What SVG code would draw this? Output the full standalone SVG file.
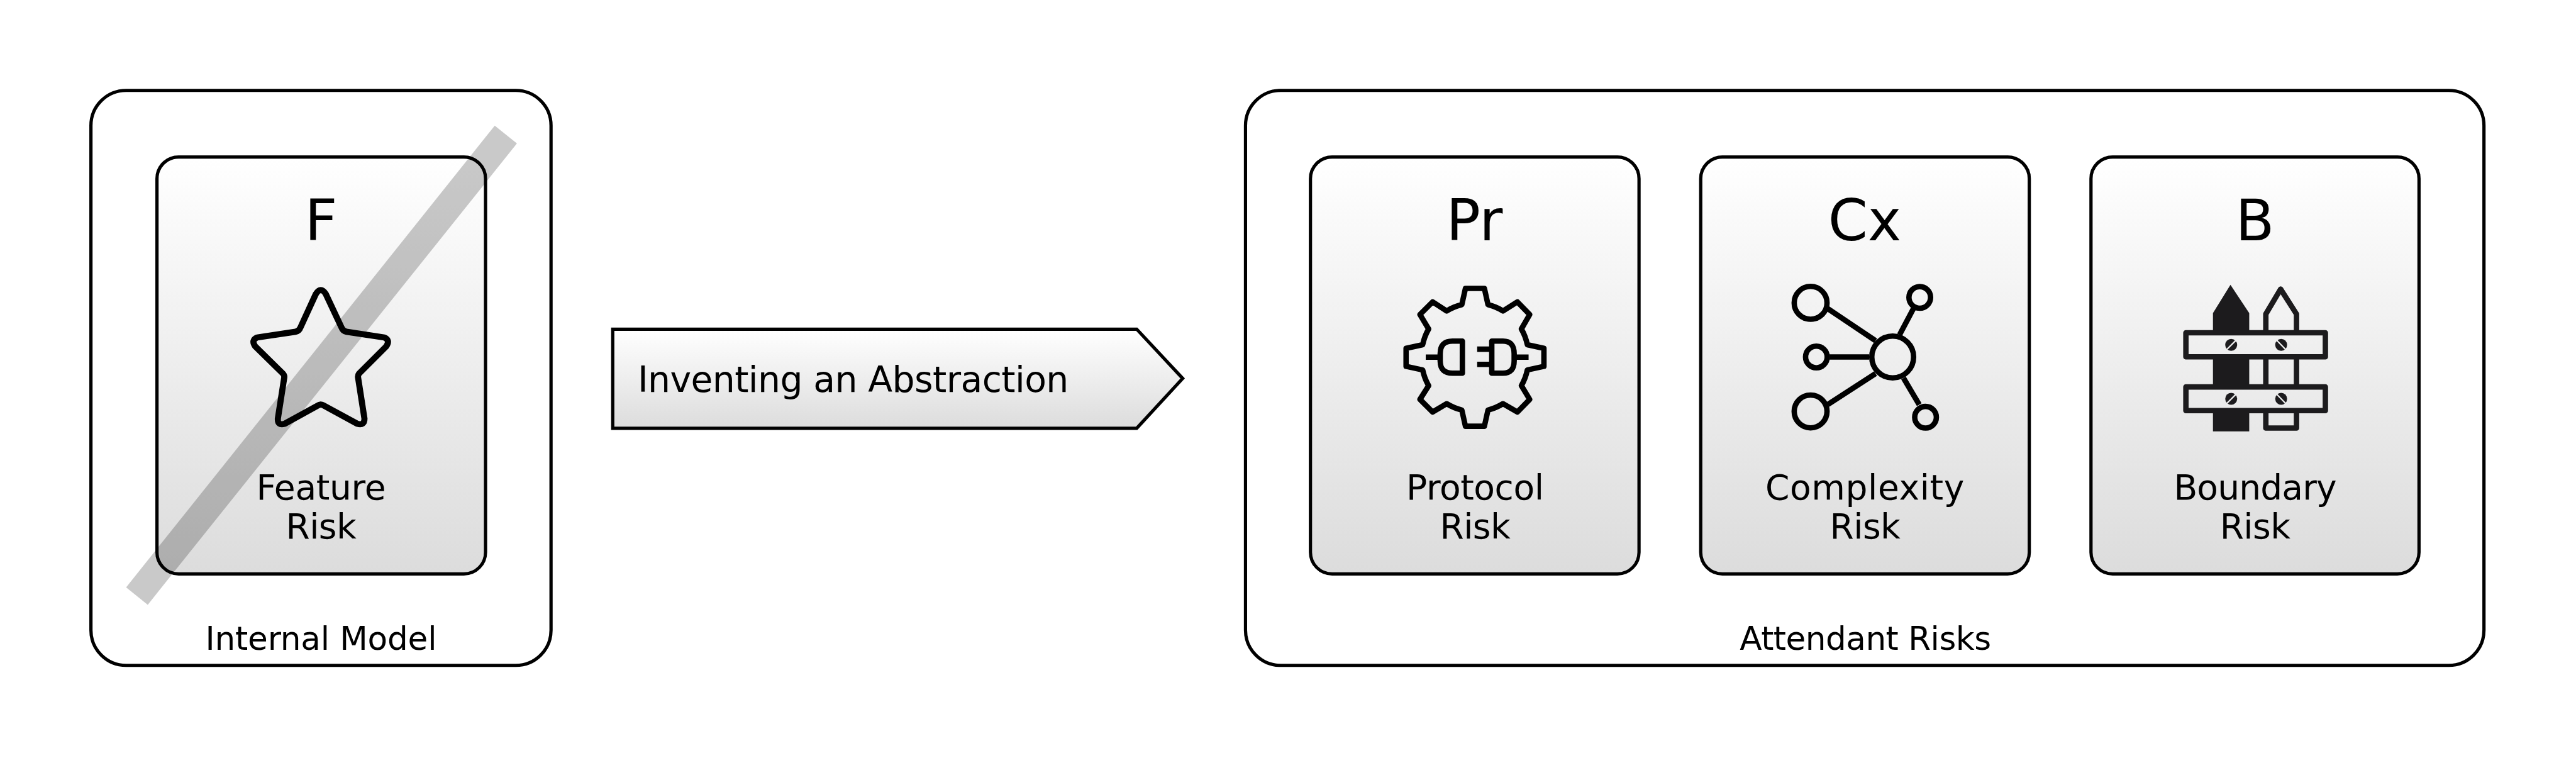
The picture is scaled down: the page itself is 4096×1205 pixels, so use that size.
<svg xmlns="http://www.w3.org/2000/svg" width="4096" height="1205" viewBox="0 0 4096 1205">
<style>
.box{fill:#fff;stroke:#000;stroke-width:6}
.card{fill:url(#cardGrad);stroke:#000;stroke-width:6}
text{font-family:"DejaVu Sans","Liberation Sans",sans-serif;fill:#000;text-anchor:middle}
.title{font-size:105px}
.label{font-size:64px}
.caption{font-size:60px}
.ico{fill:none;stroke:#000;stroke-width:30;stroke-linejoin:round}
.fence{fill:none;stroke:#1c1b1d;stroke-width:30;stroke-linejoin:round}
</style>
<defs>
<linearGradient id="cardGrad" x1="0" y1="0" x2="0" y2="1"><stop offset="0" stop-color="#fff"/><stop offset="1" stop-color="#dcdcdc"/></linearGradient>
<linearGradient id="arrowGrad" x1="0" y1="0" x2="0" y2="1"><stop offset="0" stop-color="#fff"/><stop offset="1" stop-color="#dcdcdc"/></linearGradient>
<linearGradient id="fenceGrad" gradientUnits="userSpaceOnUse" x1="0" y1="-600" x2="0" y2="1710"><stop offset="0" stop-color="#fff"/><stop offset="1" stop-color="#dcdcdc"/></linearGradient>
</defs>
<rect width="4096" height="1205" fill="#fff"/>
<g transform="scale(0.86068)">
<g id="internal-model">
<rect class="box" x="168" y="167" width="850" height="1062" rx="65"/>
<text class="caption" x="593" y="1200" letter-spacing="-.2">Internal Model</text>
</g>
<g id="feature-risk">
<rect class="card" x="290" y="290" width="607" height="770" rx="40"/>
<text class="title" x="593" y="444">F</text>
<g transform="translate(420 500) scale(.33333)"><path class="ico" style="stroke-width:34" d="M490 130Q518 85 546 130L633 315Q640 335 660 338L870 370Q905 385 880 420L730 570Q722 580 725 595L760 820Q760 860 720 848L530 745Q518 738 506 745L318 848Q278 860 280 820L315 595Q318 580 308 570L155 420Q130 385 165 370L378 338Q398 335 405 315Z"/></g>
<text class="label" x="593" y="922" letter-spacing="-.4">Feature</text>
<text class="label" x="593" y="995" letter-spacing="-.7">Risk</text>
<polygon points="914,232 955,265 273,1117 233,1085" fill="#000" fill-opacity=".21"/>
</g>
<g id="attendant-risks">
<rect class="box" x="2301" y="167" width="2288" height="1062" rx="65"/>
<text class="caption" x="3446" y="1200" letter-spacing="-.6">Attendant Risks</text>
</g>
<g id="protocol-risk">
<rect class="card" x="2421" y="290" width="607" height="770" rx="40"/>
<text class="title" x="2724" y="444">Pr</text>
<g transform="translate(2520 480) scale(.33333)">
<path class="ico" d="M562 158H667L687 248A290 290 0 0 1 770 283L850 233L918 303L872 383A290 290 0 0 1 905 470L997 490V590L905 610A290 290 0 0 1 872 697L918 773L850 843L770 797A290 290 0 0 1 687 832L667 922H562L542 832A290 290 0 0 1 458 797L380 843L310 773L358 697A290 290 0 0 1 325 610L233 590V490L325 470A290 290 0 0 1 358 383L310 303L380 233L458 283A290 290 0 0 1 542 248Z"/>
<path class="ico" d="M545 450H490Q422 450 422 520V560Q422 628 490 628H545ZM342 539H422M708 450H770Q832 450 832 520V560Q832 628 770 628H708ZM832 539H912M627 495H708M627 579H708"/>
</g>
<text class="label" x="2725" y="922" letter-spacing="-.5">Protocol</text>
<text class="label" x="2725" y="995" letter-spacing="-.7">Risk</text>
</g>
<g id="complexity-risk">
<rect class="card" x="3142" y="290" width="607" height="770" rx="40"/>
<text class="title" x="3445" y="444">Cx</text>
<g transform="translate(3260 490) scale(.33333)" class="ico">
<circle cx="255" cy="208" r="91"/><circle cx="860" cy="178" r="60"/><circle cx="287" cy="508" r="60"/><circle cx="255" cy="810" r="91"/><circle cx="710" cy="508" r="116"/><circle cx="892" cy="842" r="60"/>
<path d="M350 240L615 418M360 508H580M350 772L615 600M825 240L748 385M770 625L857 772"/>
</g>
<text class="label" x="3445.5" y="922" letter-spacing=".7">Complexity</text>
<text class="label" x="3445.5" y="995" letter-spacing="-.7">Risk</text>
</g>
<g id="boundary-risk">
<rect class="card" x="3863" y="290" width="606" height="770" rx="40"/>
<text class="title" x="4166" y="444">B</text>
<g transform="translate(3980 490) scale(.33333)">
<polygon points="325,265 422,108 526,265 526,920 325,920" fill="#1c1b1d"/>
<path class="fence" d="M618 270L700 132L788 270V902H618Z"/>
<rect class="fence" style="fill:url(#fenceGrad)" x="175" y="374" width="773" height="133"/>
<rect class="fence" style="fill:url(#fenceGrad)" x="175" y="674" width="773" height="131"/>
<g fill="#1c1b1d"><circle cx="426" cy="441" r="33"/><circle cx="703" cy="441" r="33"/><circle cx="426" cy="740" r="33"/><circle cx="703" cy="740" r="33"/></g>
<path d="M400 468L452 416M677 414L729 468M400 767L452 715M677 713L729 767" stroke="#eee" stroke-width="8" fill="none"/>
</g>
<text class="label" x="4166" y="922" letter-spacing="-1">Boundary</text>
<text class="label" x="4166" y="995" letter-spacing="-.7">Risk</text>
</g>
<g id="connectors">
<g id="inventing-an-abstraction">
<polygon points="1132,608 2100,608 2185,699 2100,791 1132,791" fill="url(#arrowGrad)" stroke="#000" stroke-width="6"/>
<text x="1178" y="724" font-size="66" letter-spacing="-.7" style="text-anchor:start">Inventing an Abstraction</text>
</g>
</g>
</g>
</svg>
